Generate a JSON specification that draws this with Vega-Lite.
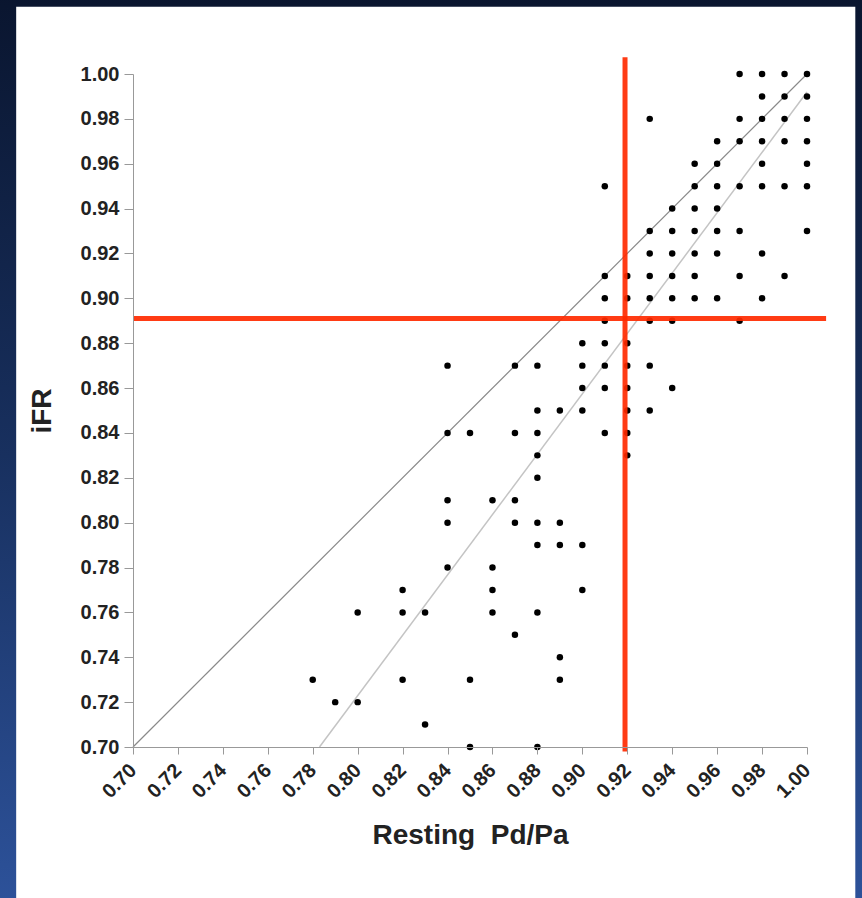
{
  "$schema": "https://vega.github.io/schema/vega-lite/v6.json",
  "width": 674,
  "height": 673,
  "autosize": {"type": "none"},
  "padding": {"left": 133, "top": 74, "right": 55, "bottom": 151},
  "background": "#1b3266",
  "config": {"view": {"stroke": null}, "font": "Liberation Sans"},
  "datasets": {
    "pts": [
      {"pdpa":0.97,"ifr":1.00},{"pdpa":0.98,"ifr":1.00},{"pdpa":0.99,"ifr":1.00},{"pdpa":1.00,"ifr":1.00},
      {"pdpa":0.98,"ifr":0.99},{"pdpa":0.99,"ifr":0.99},{"pdpa":1.00,"ifr":0.99},
      {"pdpa":0.93,"ifr":0.98},{"pdpa":0.97,"ifr":0.98},{"pdpa":0.98,"ifr":0.98},{"pdpa":0.99,"ifr":0.98},{"pdpa":1.00,"ifr":0.98},
      {"pdpa":0.96,"ifr":0.97},{"pdpa":0.97,"ifr":0.97},{"pdpa":0.98,"ifr":0.97},{"pdpa":0.99,"ifr":0.97},{"pdpa":1.00,"ifr":0.97},
      {"pdpa":0.95,"ifr":0.96},{"pdpa":0.96,"ifr":0.96},{"pdpa":0.98,"ifr":0.96},{"pdpa":1.00,"ifr":0.96},
      {"pdpa":0.91,"ifr":0.95},{"pdpa":0.95,"ifr":0.95},{"pdpa":0.96,"ifr":0.95},{"pdpa":0.97,"ifr":0.95},{"pdpa":0.98,"ifr":0.95},{"pdpa":0.99,"ifr":0.95},{"pdpa":1.00,"ifr":0.95},
      {"pdpa":0.94,"ifr":0.94},{"pdpa":0.95,"ifr":0.94},{"pdpa":0.96,"ifr":0.94},
      {"pdpa":0.93,"ifr":0.93},{"pdpa":0.94,"ifr":0.93},{"pdpa":0.95,"ifr":0.93},{"pdpa":0.96,"ifr":0.93},{"pdpa":0.97,"ifr":0.93},{"pdpa":1.00,"ifr":0.93},
      {"pdpa":0.93,"ifr":0.92},{"pdpa":0.94,"ifr":0.92},{"pdpa":0.95,"ifr":0.92},{"pdpa":0.96,"ifr":0.92},{"pdpa":0.98,"ifr":0.92},
      {"pdpa":0.91,"ifr":0.91},{"pdpa":0.92,"ifr":0.91},{"pdpa":0.93,"ifr":0.91},{"pdpa":0.94,"ifr":0.91},{"pdpa":0.95,"ifr":0.91},{"pdpa":0.97,"ifr":0.91},{"pdpa":0.99,"ifr":0.91},
      {"pdpa":0.91,"ifr":0.90},{"pdpa":0.92,"ifr":0.90},{"pdpa":0.93,"ifr":0.90},{"pdpa":0.94,"ifr":0.90},{"pdpa":0.95,"ifr":0.90},{"pdpa":0.96,"ifr":0.90},{"pdpa":0.98,"ifr":0.90},
      {"pdpa":0.91,"ifr":0.89},{"pdpa":0.93,"ifr":0.89},{"pdpa":0.94,"ifr":0.89},{"pdpa":0.97,"ifr":0.89},
      {"pdpa":0.90,"ifr":0.88},{"pdpa":0.91,"ifr":0.88},{"pdpa":0.92,"ifr":0.88},
      {"pdpa":0.84,"ifr":0.87},{"pdpa":0.87,"ifr":0.87},{"pdpa":0.88,"ifr":0.87},{"pdpa":0.90,"ifr":0.87},{"pdpa":0.91,"ifr":0.87},{"pdpa":0.92,"ifr":0.87},{"pdpa":0.93,"ifr":0.87},
      {"pdpa":0.90,"ifr":0.86},{"pdpa":0.91,"ifr":0.86},{"pdpa":0.92,"ifr":0.86},{"pdpa":0.94,"ifr":0.86},
      {"pdpa":0.88,"ifr":0.85},{"pdpa":0.89,"ifr":0.85},{"pdpa":0.90,"ifr":0.85},{"pdpa":0.92,"ifr":0.85},{"pdpa":0.93,"ifr":0.85},
      {"pdpa":0.84,"ifr":0.84},{"pdpa":0.85,"ifr":0.84},{"pdpa":0.87,"ifr":0.84},{"pdpa":0.88,"ifr":0.84},{"pdpa":0.91,"ifr":0.84},{"pdpa":0.92,"ifr":0.84},
      {"pdpa":0.88,"ifr":0.83},{"pdpa":0.92,"ifr":0.83},
      {"pdpa":0.88,"ifr":0.82},
      {"pdpa":0.84,"ifr":0.81},{"pdpa":0.86,"ifr":0.81},{"pdpa":0.87,"ifr":0.81},
      {"pdpa":0.84,"ifr":0.80},{"pdpa":0.87,"ifr":0.80},{"pdpa":0.88,"ifr":0.80},{"pdpa":0.89,"ifr":0.80},
      {"pdpa":0.88,"ifr":0.79},{"pdpa":0.89,"ifr":0.79},{"pdpa":0.90,"ifr":0.79},
      {"pdpa":0.84,"ifr":0.78},{"pdpa":0.86,"ifr":0.78},
      {"pdpa":0.82,"ifr":0.77},{"pdpa":0.86,"ifr":0.77},{"pdpa":0.90,"ifr":0.77},
      {"pdpa":0.80,"ifr":0.76},{"pdpa":0.82,"ifr":0.76},{"pdpa":0.83,"ifr":0.76},{"pdpa":0.86,"ifr":0.76},{"pdpa":0.88,"ifr":0.76},
      {"pdpa":0.87,"ifr":0.75},
      {"pdpa":0.89,"ifr":0.74},
      {"pdpa":0.78,"ifr":0.73},{"pdpa":0.82,"ifr":0.73},{"pdpa":0.85,"ifr":0.73},{"pdpa":0.89,"ifr":0.73},
      {"pdpa":0.79,"ifr":0.72},{"pdpa":0.80,"ifr":0.72},
      {"pdpa":0.83,"ifr":0.71},
      {"pdpa":0.85,"ifr":0.70},{"pdpa":0.88,"ifr":0.70}
    ]
  },
  "layer": [
    {
      "data": {"values": [{}]},
      "mark": {"type": "rect", "clip": false, "color": {"gradient": "linear", "x1": 0, "y1": 0, "x2": 0, "y2": 1, "stops": [{"offset": 0, "color": "#081229"}, {"offset": 0.5, "color": "#18305f"}, {"offset": 1, "color": "#3057a3"}]}},
      "encoding": {
        "x": {"datum": 0.60, "type": "quantitative"},
        "x2": {"datum": 1.06},
        "y": {"datum": 0.60, "type": "quantitative"},
        "y2": {"datum": 1.06}
      }
    },
    {
      "data": {"values": [{}]},
      "mark": {"type": "rect", "clip": false, "color": "#ffffff"},
      "encoding": {
        "x": {"datum": 0.648, "type": "quantitative"},
        "x2": {"datum": 1.0215},
        "y": {"datum": 0.62, "type": "quantitative"},
        "y2": {"datum": 1.030}
      }
    },
    {
      "data": {"values": [{}]},
      "mark": {"type": "rule", "color": "#8a8a8a", "strokeWidth": 1.2},
      "encoding": {
        "x": {"datum": 0.70, "type": "quantitative"},
        "y": {"datum": 0.70, "type": "quantitative"},
        "x2": {"datum": 1.00},
        "y2": {"datum": 1.00}
      }
    },
    {
      "data": {"values": [{}]},
      "mark": {"type": "rule", "color": "#c4c4c4", "strokeWidth": 1.5},
      "encoding": {
        "x": {"datum": 0.783, "type": "quantitative"},
        "y": {"datum": 0.70, "type": "quantitative"},
        "x2": {"datum": 1.00},
        "y2": {"datum": 0.992}
      }
    },
    {
      "data": {"name": "pts"},
      "mark": {"type": "point", "filled": true, "color": "#000000", "size": 42, "opacity": 1},
      "encoding": {
        "x": {
          "field": "pdpa", "type": "quantitative",
          "scale": {"domain": [0.70, 1.00], "zero": false, "nice": false},
          "axis": {
            "title": "Resting\u00a0 Pd/Pa",
            "values": [0.70,0.72,0.74,0.76,0.78,0.80,0.82,0.84,0.86,0.88,0.90,0.92,0.94,0.96,0.98,1.00],
            "format": ".2f", "grid": false, "zindex": 1,
            "labelAngle": -45, "labelAlign": "right", "labelBaseline": "middle",
            "labelFont": "Liberation Sans", "labelFontWeight": "bold", "labelFontSize": 20, "labelColor": "#222222",
            "labelPadding": 13, "labelOverlap": false, "labelFlush": false,
            "tickSize": 7, "tickColor": "#999999", "domainColor": "#999999",
            "titleFont": "Liberation Sans", "titleFontSize": 28, "titleFontWeight": "bold", "titleColor": "#222222", "titlePadding": 20
          }
        },
        "y": {
          "field": "ifr", "type": "quantitative",
          "scale": {"domain": [0.70, 1.00], "zero": false, "nice": false},
          "axis": {
            "title": "iFR",
            "values": [0.70,0.72,0.74,0.76,0.78,0.80,0.82,0.84,0.86,0.88,0.90,0.92,0.94,0.96,0.98,1.00],
            "format": ".2f", "grid": false, "zindex": 1,
            "labelFont": "Liberation Sans", "labelFontWeight": "bold", "labelFontSize": 20, "labelColor": "#222222",
            "labelPadding": 5, "labelOverlap": false, "labelFlush": false,
            "tickSize": 9, "tickColor": "#999999", "domainColor": "#999999",
            "titleFont": "Liberation Sans", "titleFontSize": 28, "titleFontWeight": "bold", "titleColor": "#222222", "titlePadding": 24
          }
        }
      }
    },
    {
      "data": {"values": [{}]},
      "mark": {"type": "rule", "color": "#ff2a00", "strokeWidth": 5, "opacity": 0.92},
      "encoding": {
        "x": {"datum": 0.919, "type": "quantitative"},
        "y": {"datum": 0.698, "type": "quantitative"},
        "y2": {"datum": 1.0075}
      }
    },
    {
      "data": {"values": [{}]},
      "mark": {"type": "rule", "color": "#ff2a00", "strokeWidth": 5, "opacity": 0.92},
      "encoding": {
        "y": {"datum": 0.891, "type": "quantitative"},
        "x": {"datum": 0.70, "type": "quantitative"},
        "x2": {"datum": 1.0085}
      }
    }
  ]
}
